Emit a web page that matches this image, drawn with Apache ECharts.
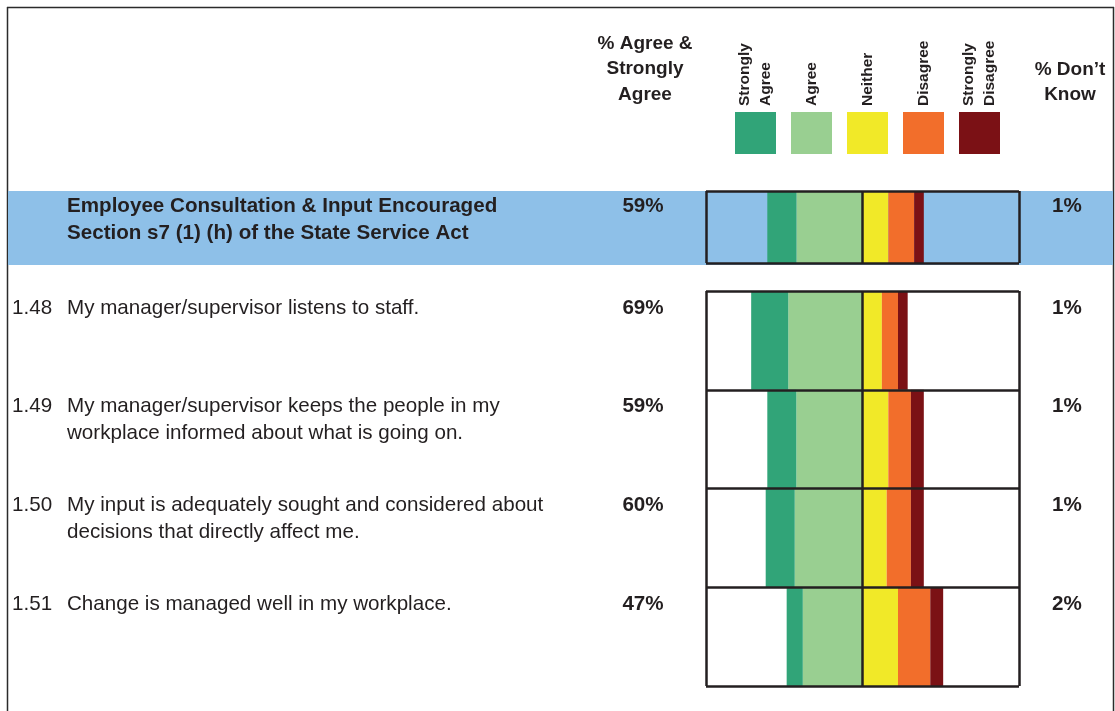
<!DOCTYPE html>
<html>
<head>
<meta charset="utf-8">
<script src="https://cdn.jsdelivr.net/npm/echarts@6/dist/echarts.min.js"></script>
<style>
  html, body { margin: 0; padding: 0; background: #ffffff; }
  #chart { width: 1115px; height: 711px; }
</style>
</head>
<body>
<div id="chart"></div>
<script>
// Response scale, left to right
const responseLabels = ['Strongly Agree', 'Agree', 'Neither', 'Disagree', 'Strongly Disagree'];
const responseColors = ['#31A478', '#99CF91', '#F1E928', '#F26E2B', '#7B1115'];

// Section summary row
const sectionTitle = ['Employee Consultation & Input Encouraged', 'Section s7 (1) (h) of the State Service Act'];
const sectionStronglyAgree = [18];
const sectionAgree = [41];
const sectionNeither = [16];
const sectionDisagree = [16];
const sectionStronglyDisagree = [6];
const sectionDontKnow = [1];

// Individual survey items
const itemIds = ['1.48', '1.49', '1.50', '1.51'];
const itemQuestions = [
  'My manager/supervisor listens to staff.',
  'My manager/supervisor keeps the people in my\nworkplace informed about what is going on.',
  'My input is adequately sought and considered about\ndecisions that directly affect me.',
  'Change is managed well in my workplace.'
];
const itemStronglyAgree = [23, 18, 18, 10];
const itemAgree = [46, 41, 42, 37];
const itemNeither = [12, 16, 15, 22];
const itemDisagree = [10, 14, 15, 20];
const itemStronglyDisagree = [6, 8, 8, 8];
const itemDontKnow = [1, 1, 1, 2];

const INK = '#231F20';
const BAND_BLUE = '#8EC0E8';
const FONT = '"Liberation Sans", Arial, sans-serif';
const ROW_FONT_SIZE = '20.6px ';

const chart = echarts.init(document.getElementById('chart'), null, { renderer: 'canvas' });

// Diverging stacked bars: agreement to the left of zero, the rest to the right
function barSeries(gridIdx, sa, a, n, d, sd) {
  const stack = 'g' + gridIdx;
  const common = {
    type: 'bar', stack, xAxisIndex: gridIdx, yAxisIndex: gridIdx,
    barWidth: '100%', barCategoryGap: '0%', z: 2, silent: true
  };
  return [
    Object.assign({ name: responseLabels[1], data: a.map(v => -v), itemStyle: { color: responseColors[1] } }, common),
    Object.assign({ name: responseLabels[0], data: sa.map(v => -v), itemStyle: { color: responseColors[0] } }, common),
    Object.assign({ name: responseLabels[2], data: n, itemStyle: { color: responseColors[2] } }, common),
    Object.assign({ name: responseLabels[3], data: d, itemStyle: { color: responseColors[3] } }, common),
    Object.assign({ name: responseLabels[4], data: sd, itemStyle: { color: responseColors[4] } }, common)
  ];
}

// Row text (id, question, % agree, % don't know) laid out against each category band
function textSeries(gridIdx, ids, questions, sa, a, dk, opts) {
  return {
    type: 'custom', xAxisIndex: gridIdx, yAxisIndex: gridIdx, z: 1, clip: false, silent: true,
    data: questions.map((q, i) => [0, i]),
    renderItem: function (params, api) {
      const i = api.value(1);
      const c = api.coord([0, i]);
      const band = api.size([0, 1])[1];
      const top = c[1] - band / 2;
      const firstLine = top + opts.textOffset;
      const lh = 27;
      const children = [];
      if (opts.highlight) {
        children.push({
          type: 'rect',
          shape: { x: 8, y: top, width: 1105, height: band + 2 },
          style: { fill: BAND_BLUE }
        });
      }
      const weight = opts.bold ? 'bold ' : '';
      if (ids) {
        children.push({
          type: 'text', x: 12, y: firstLine,
          style: { text: ids[i], font: ROW_FONT_SIZE + FONT, fill: INK, align: 'left', verticalAlign: 'middle' }
        });
      }
      children.push({
        type: 'text', x: 67, y: firstLine - lh / 2,
        style: { text: questions[i], font: weight + ROW_FONT_SIZE + FONT, fill: INK, align: 'left', verticalAlign: 'top', lineHeight: lh }
      });
      children.push({
        type: 'text', x: 643, y: firstLine,
        style: { text: (sa[i] + a[i]) + '%', font: 'bold ' + ROW_FONT_SIZE + FONT, fill: INK, align: 'center', verticalAlign: 'middle' }
      });
      children.push({
        type: 'text', x: 1067, y: firstLine,
        style: { text: dk[i] + '%', font: 'bold ' + ROW_FONT_SIZE + FONT, fill: INK, align: 'center', verticalAlign: 'middle' }
      });
      return { type: 'group', children };
    }
  };
}

function xAxisFor(gridIdx) {
  return {
    gridIndex: gridIdx, type: 'value', min: -97, max: 97, interval: 97, z: 5,
    axisLine: { show: false }, axisTick: { show: false }, axisLabel: { show: false },
    splitLine: { show: true, lineStyle: { color: INK, width: 2.5 } }
  };
}
function yAxisFor(gridIdx, cats) {
  return {
    gridIndex: gridIdx, type: 'category', data: cats, inverse: true, z: 5,
    axisLine: { show: false }, axisTick: { show: false }, axisLabel: { show: false },
    splitLine: { show: true, lineStyle: { color: INK, width: 2.5 } }
  };
}

// Header graphics: column titles, legend swatches with rotated captions, outer frame
const legendEls = [];
const legendCaptions = [['Strongly', 'Agree'], ['Agree'], ['Neither'], ['Disagree'], ['Strongly', 'Disagree']];
responseColors.forEach((col, i) => {
  const x0 = 735 + i * 56;
  legendEls.push({ type: 'rect', shape: { x: x0, y: 112, width: 41, height: 42 }, style: { fill: col } });
  const lines = legendCaptions[i];
  const cx = x0 + 20.5;
  lines.forEach((t, j) => {
    const dx = lines.length === 1 ? 0 : (j === 0 ? -10.5 : 10.5);
    legendEls.push({
      type: 'text', x: cx + dx, y: 106, rotation: Math.PI / 2,
      style: { text: t, font: 'bold 15.5px ' + FONT, fill: INK, align: 'left', verticalAlign: 'middle' }
    });
  });
});

const option = {
  backgroundColor: '#ffffff',
  animation: false,
  grid: [
    { left: 706, right: 96, top: 191, height: 72, containLabel: false },
    { left: 706, right: 96, top: 291, height: 395, containLabel: false }
  ],
  xAxis: [xAxisFor(0), xAxisFor(1)],
  yAxis: [yAxisFor(0, ['section']), yAxisFor(1, itemIds)],
  series: [
    textSeries(0, null, [sectionTitle.join('\n')], sectionStronglyAgree, sectionAgree, sectionDontKnow, { bold: true, highlight: true, textOffset: 15 }),
    ...barSeries(0, sectionStronglyAgree, sectionAgree, sectionNeither, sectionDisagree, sectionStronglyDisagree),
    textSeries(1, itemIds, itemQuestions, itemStronglyAgree, itemAgree, itemDontKnow, { bold: false, highlight: false, textOffset: 17 }),
    ...barSeries(1, itemStronglyAgree, itemAgree, itemNeither, itemDisagree, itemStronglyDisagree)
  ],
  graphic: {
    elements: [
      { type: 'line', shape: { x1: 7, y1: 7.5, x2: 1114, y2: 7.5 }, style: { stroke: '#2b2b2b', lineWidth: 1.5 } },
      { type: 'line', shape: { x1: 7.5, y1: 7, x2: 7.5, y2: 711 }, style: { stroke: '#2b2b2b', lineWidth: 1.5 } },
      { type: 'line', shape: { x1: 1113.5, y1: 7, x2: 1113.5, y2: 711 }, style: { stroke: '#2b2b2b', lineWidth: 1.5 } },
      {
        type: 'text', x: 645, y: 31,
        style: { text: '% Agree &\nStrongly\nAgree', font: 'bold 19px ' + FONT, fill: INK, align: 'center', verticalAlign: 'top', lineHeight: 25.5 }
      },
      {
        type: 'text', x: 1070, y: 57,
        style: { text: '% Don\u2019t\nKnow', font: 'bold 19px ' + FONT, fill: INK, align: 'center', verticalAlign: 'top', lineHeight: 25.5 }
      },
      ...legendEls
    ]
  }
};

chart.setOption(option);
</script>
</body>
</html>
